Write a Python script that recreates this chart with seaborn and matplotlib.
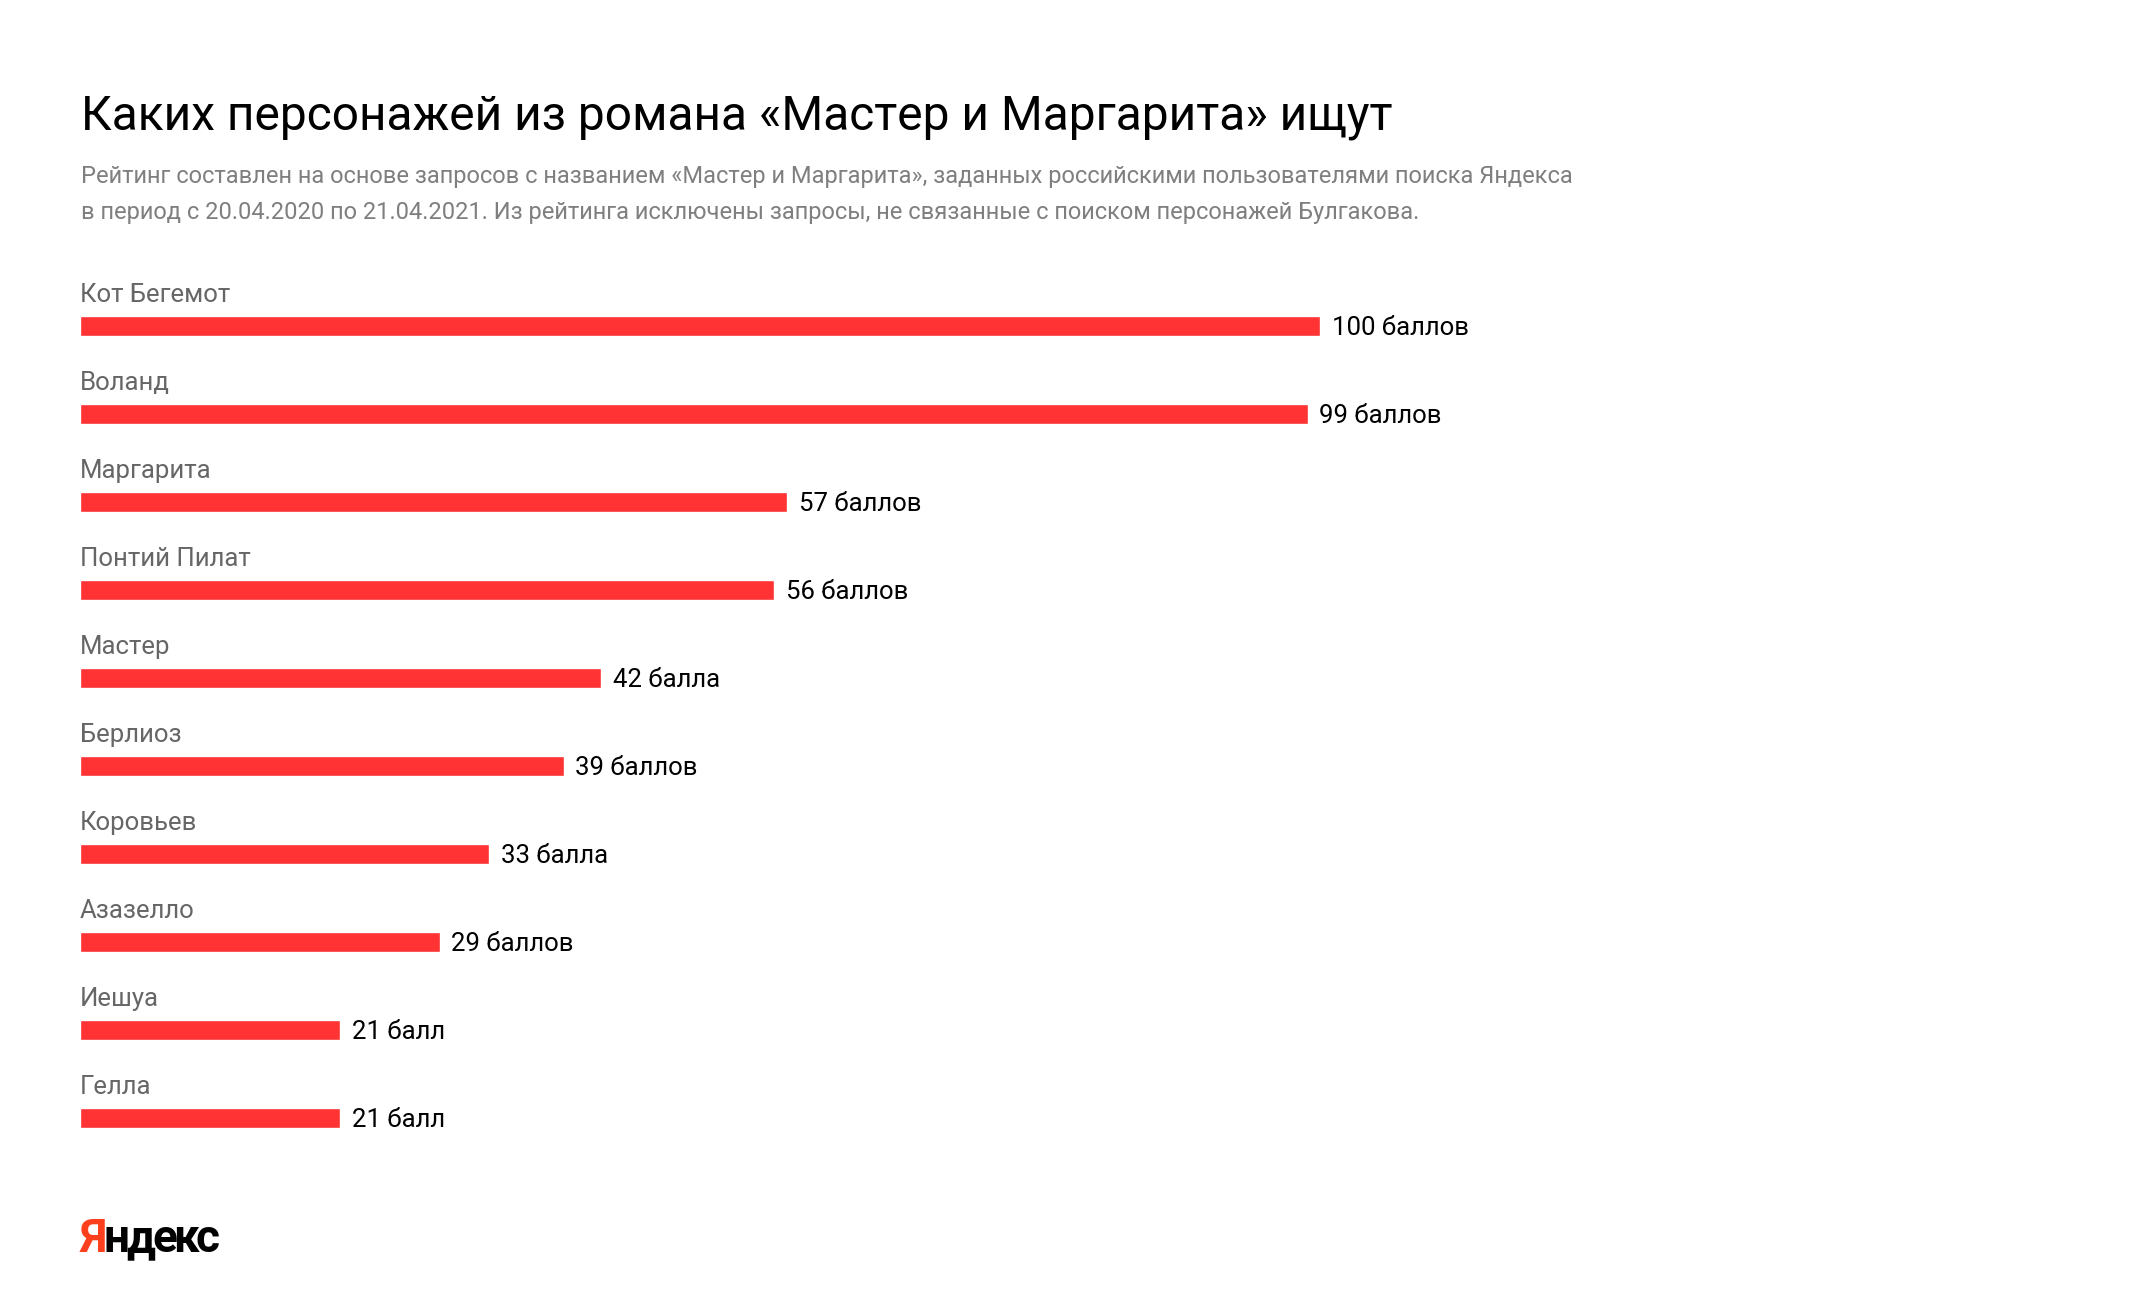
import matplotlib
matplotlib.use("Agg")
from matplotlib import pyplot as plt
import seaborn as sns
import pandas as pd

# data
characters = ["Кот Бегемот", "Воланд", "Маргарита", "Понтий Пилат", "Мастер",
              "Берлиоз", "Коровьев", "Азазелло", "Иешуа", "Гелла"]
scores = [100, 99, 57, 56, 42, 39, 33, 29, 21, 21]
score_labels = ["100 баллов", "99 баллов", "57 баллов", "56 баллов", "42 балла",
                "39 баллов", "33 балла", "29 баллов", "21 балл", "21 балл"]

title = "Каких персонажей из романа «Мастер и Маргарита» ищут"
subtitle_lines = ["Рейтинг составлен на основе запросов с названием «Мастер и Маргарита», заданных российскими пользователями поиска Яндекса",
                  "в период с 20.04.2020 по 21.04.2021. Из рейтинга исключены запросы, не связанные с поиском персонажей Булгакова."]

df = pd.DataFrame({"name": characters, "score": scores})

sns.set_style("white")
plt.rcParams['font.family'] = ['Roboto', 'DejaVu Sans']

W, H = 2140, 1298
fig = plt.figure(figsize=(W / 100, H / 100), dpi=100)
ax = fig.add_axes([80 / W, 1 - 1162 / H, 1240 / W, 880 / H])

sns.barplot(data=df, x="score", y="name", orient="h", color="#FF3333",
            width=0.227, saturation=1, ax=ax)
ax.set_xlim(0, 100)
ax.set_ylim(9.5, -0.5)
ax.axis("off")

for i, (name, val, lab) in enumerate(zip(characters, scores, score_labels)):
    ax.text(0, i - 0.27, name, fontsize=18.5, color="#666666", va="baseline", ha="left")
    ax.text(val + 0.95, i + 0.1, lab, fontsize=18.5, color="#000000", va="baseline", ha="left")

fig.text(81 / W, 1 - 130 / H, title, fontsize=34.5, color="#000000", va="baseline")
for k, line in enumerate(subtitle_lines):
    fig.text(81 / W, 1 - (183 + 36 * k) / H, line, fontsize=17, color="#7f7f7f", va="baseline")

# logo: red first letter, tight letter spacing
fig.canvas.draw()
x = 80
for ch, col in zip("Яндекс", ["#FC3F1D"] + ["#000000"] * 5):
    t = fig.text(x / W, 1 - 1252 / H, ch, fontsize=33, fontweight="bold", color=col, va="baseline")
    bb = t.get_window_extent()
    x = bb.x1 - 3.5

fig.savefig("out.png", dpi=100)
